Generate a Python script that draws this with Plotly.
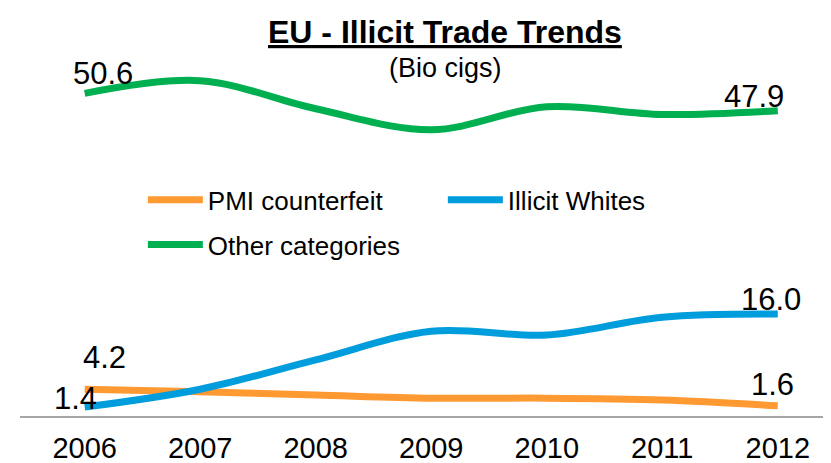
import plotly.graph_objects as go

years = [2006, 2007, 2008, 2009, 2010, 2011, 2012]
pmi_counterfeit = [4.2, 3.8, 3.3, 2.8, 2.8, 2.5, 1.6]
illicit_whites = [1.4, 4.2, 8.8, 13.3, 12.7, 15.5, 16.0]
other_categories = [50.6, 52.6, 48.2, 44.9, 48.5, 47.3, 47.9]

FONT = "Liberation Sans, Arial"

fig = go.Figure()

series = [
    ("PMI counterfeit", pmi_counterfeit, "#FF9A33", "legend"),
    ("Illicit Whites", illicit_whites, "#009DDC", "legend"),
    ("Other categories", other_categories, "#00B050", "legend2"),
]
for name, vals, color, leg in series:
    fig.add_trace(go.Scatter(
        x=years, y=vals, mode="lines", name=name, legend=leg,
        line=dict(color=color, width=7, shape="spline", smoothing=1),
        cliponaxis=False,
    ))

# end-point value labels: (year index, series values, xshift, yshift)
labels = [
    (0, other_categories, 18, 20),
    (6, other_categories, -24, 14),
    (0, pmi_counterfeit, 20, 32),
    (6, pmi_counterfeit, -5, 21),
    (0, illicit_whites, -9, 9),
    (6, illicit_whites, -7, 15),
]
for i, vals, dx, dy in labels:
    fig.add_annotation(
        x=years[i], y=vals[i], text=f"{vals[i]:.1f}", showarrow=False,
        xshift=dx, yshift=dy, font=dict(size=31, color="black", family=FONT),
    )

fig.add_annotation(
    text="<b><u>EU - Illicit Trade Trends</u></b>", xref="paper", yref="paper",
    x=0.53, y=1, xshift=-9, yshift=-4, yanchor="top", showarrow=False,
    font=dict(size=32, color="black", family=FONT),
)
fig.add_annotation(
    text="(Bio cigs)", xref="paper", yref="paper",
    x=0.53, y=1, xshift=-9, yshift=-43, yanchor="top", showarrow=False,
    font=dict(size=27, color="black", family=FONT),
)

legend_style = dict(
    orientation="h", xanchor="left", yanchor="middle",
    entrywidth=230, entrywidthmode="pixels", itemwidth=55,
    font=dict(size=26), bgcolor="rgba(0,0,0,0)",
)

fig.update_layout(
    width=831, height=463,
    margin=dict(l=12, r=0, t=0, b=55),
    plot_bgcolor="white", paper_bgcolor="white",
    font=dict(family=FONT, color="black"),
    xaxis=dict(
        range=[2005.44, 2012.53], tickvals=years, ticktext=[str(y) for y in years],
        showgrid=False, zeroline=False, showline=True, linecolor="#A6A6A6",
        linewidth=2, tickfont=dict(size=29), ticklabelstandoff=5,
    ),
    yaxis=dict(range=[0, 64], visible=False),
    legend=dict(x=0.15, y=0.53, **legend_style),
    legend2=dict(x=0.15, y=0.42, **legend_style),
)

fig.write_html("out.html")
